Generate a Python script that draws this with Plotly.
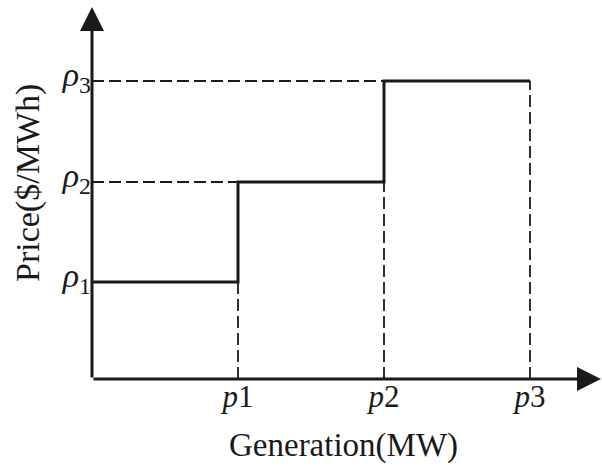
import plotly.graph_objects as go

# Data (axis units)
gen = [1.0, 2.0, 3.0]            # p1, p2, p3
price = [0.97, 1.97, 2.98]       # rho1, rho2, rho3
x_tick_labels = ["<i>p</i>1", "<i>p</i>2", "<i>p</i>3"]
y_tick_labels = ["<i>ρ</i><sub>1</sub>", "<i>ρ</i><sub>2</sub>", "<i>ρ</i><sub>3</sub>"]
x_title = "Generation(MW)"
y_title = "Price($/MWh)"

W, H = 602, 468
ML, MR, MT, MB = 92, 0, 5, 89
PX_PER_X = 146.0
PX_PER_Y = 100.0
xmax = (W - ML - MR) / PX_PER_X
ymax = (H - MT - MB) / PX_PER_Y

FONT = "Liberation Serif"
INK = "#1a1a1a"

fig = go.Figure()

# Solid step (supply curve)
fig.add_trace(go.Scatter(
    x=[0] + gen, y=price + [price[-1]],
    mode="lines", line=dict(color=INK, width=3, shape="hv"),
    hoverinfo="skip", showlegend=False))

dash = "12px,5px"
# vertical dashed lines from axis to each step top
for g, p in zip(gen, price):
    fig.add_trace(go.Scatter(x=[g, g], y=[0, p], mode="lines",
                             line=dict(color=INK, width=1.8, dash=dash),
                             hoverinfo="skip", showlegend=False))
# horizontal dashed lines from y-axis to the step for rho2, rho3
for i in range(1, len(price)):
    fig.add_trace(go.Scatter(x=[0, gen[i - 1]], y=[price[i], price[i]], mode="lines",
                             line=dict(color=INK, width=1.8, dash=dash),
                             hoverinfo="skip", showlegend=False))

# Axis arrows
x_tip = (W - 1 - ML) / PX_PER_X
y_tip = (H - MB - 7) / PX_PER_Y
fig.add_annotation(x=x_tip, y=0, ax=0, ay=0, xref="x", yref="y", axref="x", ayref="y",
                   text="", showarrow=True, arrowhead=2, arrowwidth=3, arrowsize=1.6,
                   arrowcolor=INK, standoff=0)
fig.add_annotation(x=0, y=y_tip, ax=0, ay=0, xref="x", yref="y", axref="x", ayref="y",
                   text="", showarrow=True, arrowhead=2, arrowwidth=3, arrowsize=1.6,
                   arrowcolor=INK, standoff=0)

plot_w = W - ML - MR
plot_h = H - MT - MB
# Axis titles
fig.add_annotation(text=x_title, xref="paper", yref="paper",
                   x=(343 - ML) / plot_w, y=(H - MB - 445) / plot_h,
                   xanchor="center", yanchor="middle", showarrow=False,
                   font=dict(family=FONT, size=33, color=INK))
fig.add_annotation(text=y_title, xref="paper", yref="paper",
                   x=(28 - ML) / plot_w, y=(H - MB - 183) / plot_h,
                   xanchor="center", yanchor="middle", showarrow=False, textangle=-90,
                   font=dict(family=FONT, size=34, color=INK))

fig.update_layout(
    width=W, height=H,
    margin=dict(l=ML, r=MR, t=MT, b=MB, pad=0, autoexpand=False),
    paper_bgcolor="white", plot_bgcolor="white",
    showlegend=False,
    xaxis=dict(range=[0, xmax], showgrid=False, zeroline=False, showline=False,
               automargin=False,
               tickmode="array", tickvals=gen, ticktext=x_tick_labels, ticks="",
               ticklabelstandoff=-4,
               tickfont=dict(family=FONT, size=31, color=INK), fixedrange=True),
    yaxis=dict(range=[0, ymax], showgrid=False, zeroline=False, showline=False,
               automargin=False,
               tickmode="array", tickvals=price, ticktext=y_tick_labels, ticks="",
               ticklabelshift=-7,
               tickfont=dict(family=FONT, size=34, color=INK), fixedrange=True),
)

fig.write_html(
    "out.html",
    config={"displayModeBar": False, "staticPlot": True},
    post_script="document.body.style.margin='0';document.body.style.overflow='hidden';",
)
